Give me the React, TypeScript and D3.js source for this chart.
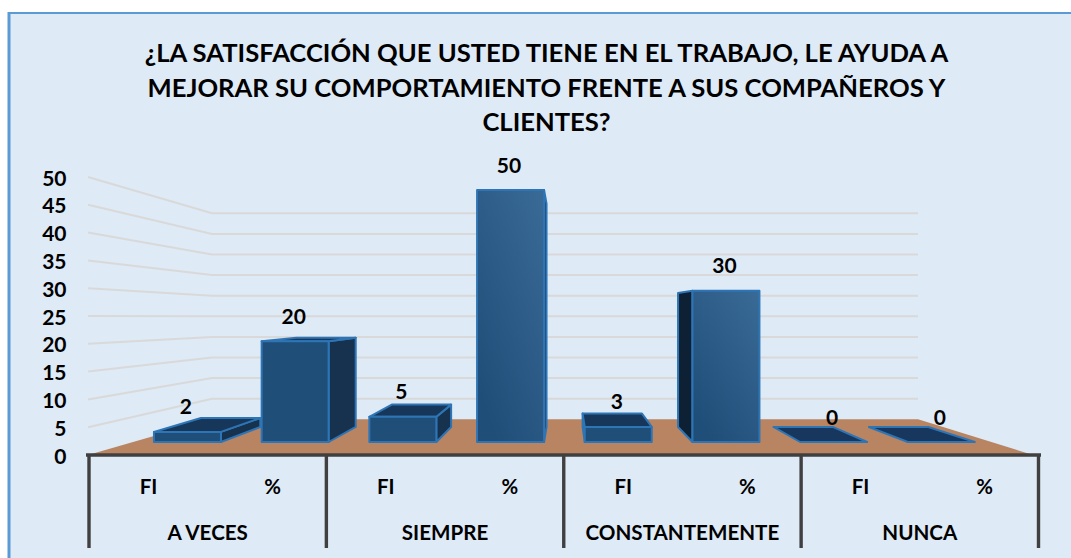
import React from "react";
import * as d3 from "d3";

const titleLines = [
  "¿LA SATISFACCIÓN QUE USTED TIENE EN EL TRABAJO, LE AYUDA A",
  "MEJORAR SU COMPORTAMIENTO FRENTE A SUS COMPAÑEROS Y",
  "CLIENTES?",
];
const categories = ["A VECES", "SIEMPRE", "CONSTANTEMENTE", "NUNCA"];
const measures = ["FI", "%"];
const values = [2, 20, 5, 50, 3, 30, 0, 0];
const ticks = [0, 5, 10, 15, 20, 25, 30, 35, 40, 45, 50];

const W = 1071, H = 558;
const FONT = "Lato, 'Open Sans', sans-serif";

const x = d3.scaleBand<number>().domain(d3.range(values.length)).range([133.6, 995.2]).paddingInner(0.378).paddingOuter(0.189);
const y = d3.scaleLinear().domain([0, 50]).range([442, 190]);
const wallFront = d3.scaleLinear().domain([0, 50]).range([455, 177]);
const wallBack = d3.scaleLinear().domain([0, 50]).range([419.3, 213.3]);
const groupX = d3.scaleLinear().domain([0, categories.length]).range([89, 1038.5]);

const VP = [566, 310];
const K = 0.886;
const back = (px: number, py: number): [number, number] => [VP[0] + (px - VP[0]) * K, VP[1] + (py - VP[1]) * K];
const poly = (pts: [number, number][]) => pts.map((p) => p.join(",")).join(" ");

const EDGE = "#2E75B6";
const FRONT = "#1F4E79";

function Bar({ i, v }: { i: number; v: number }) {
  const x0 = x(i)!, x1 = x0 + x.bandwidth();
  const yb = y(0), yt = y(v);
  const bl = back(x0, yb), br = back(x1, yb), tl = back(x0, yt), tr = back(x1, yt);
  const style = { stroke: EDGE, strokeWidth: 2, strokeLinejoin: "round" as const };
  if (v === 0) {
    return <polygon points={poly([[x0, yb], [x1, yb], br, bl])} fill="#17375E" {...style} />;
  }
  return (
    <g>
      {x1 < VP[0] && <polygon points={poly([[x1, yb], [x1, yt], tr, br])} fill="#16324F" {...style} />}
      {x0 > VP[0] && <polygon points={poly([[x0, yb], [x0, yt], tl, bl])} fill="#0E2034" {...style} />}
      {yt > VP[1] && <polygon points={poly([[x0, yt], [x1, yt], tr, tl])} fill="#17375A" {...style} />}
      <rect x={x0} y={yt} width={x1 - x0} height={yb - yt} fill={v >= 30 ? "url(#barGrad)" : FRONT} {...style} />
    </g>
  );
}

export default function App() {
  const textStyle = { fontFamily: FONT, fontWeight: 700, fill: "#000" };
  const groupStep = groupX(1) - groupX(0);
  return (
    <svg width={W} height={H} style={{ position: "absolute", left: 0, top: 0, display: "block" }}>
      <defs>
        <linearGradient id="barGrad" x1="1" y1="0" x2="0.3" y2="1">
          <stop offset="0" stopColor="#3A6A96" />
          <stop offset="1" stopColor="#1F4E79" />
        </linearGradient>
      </defs>
      <rect width={W} height={H} fill="#fff" />
      <rect x={9} y={13} width={W - 9} height={H - 13} fill="#DEEAF6" />
      <line x1={9} y1={13} x2={W} y2={13} stroke="#5B9BD5" strokeWidth={2} />
      <line x1={9} y1={12} x2={9} y2={H} stroke="#5B9BD5" strokeWidth={3} />

      {titleLines.map((t, i) => (
        <text key={t} x={546.5} y={62 + i * 34.7} textAnchor="middle" fontSize={25.6} {...textStyle}>{t}</text>
      ))}

      {ticks.filter((t) => t > 0).map((t) => (
        <g key={t} fill="none" stroke="#D9D9D9" strokeWidth={2}>
          <polyline points={poly([[88, wallFront(t)], [212, wallBack(t)], [918, wallBack(t)]])} />
        </g>
      ))}
      <polygon points={poly([[88, wallFront(0)], [212, wallBack(0)], [918, wallBack(0)], [1033, wallFront(0)]])} fill="#B88461" />

      {ticks.map((t) => (
        <text key={t} x={66.5} y={wallFront(t) + 8.5} textAnchor="end" fontSize={21} {...textStyle}>{t}</text>
      ))}

      {values.map((v, i) => <Bar key={i} i={i} v={v} />)}

      {values.map((v, i) => (
        <text key={i} x={x(i)! + x.bandwidth() / 2 - 1.5} y={y(v) - 17.5} textAnchor="middle" fontSize={21} {...textStyle}>{v}</text>
      ))}

      <g stroke="#404040" strokeWidth={3.4}>
        <line x1={86} x2={1041} y1={455} y2={455} />
        {d3.range(categories.length + 1).map((i) => (
          <line key={i} x1={groupX(i)} x2={groupX(i)} y1={455} y2={548} />
        ))}
      </g>

      {categories.map((c, i) => (
        <g key={c}>
          <text x={groupX(i) + groupStep / 2} y={540} textAnchor="middle" fontSize={20.6} {...textStyle}>{c}</text>
          {measures.map((m, j) => (
            <text key={m} x={groupX(i) + (j === 0 ? 59.5 : 183.5)} y={494} textAnchor="middle" fontSize={20.4} {...textStyle}>{m}</text>
          ))}
        </g>
      ))}
    </svg>
  );
}
